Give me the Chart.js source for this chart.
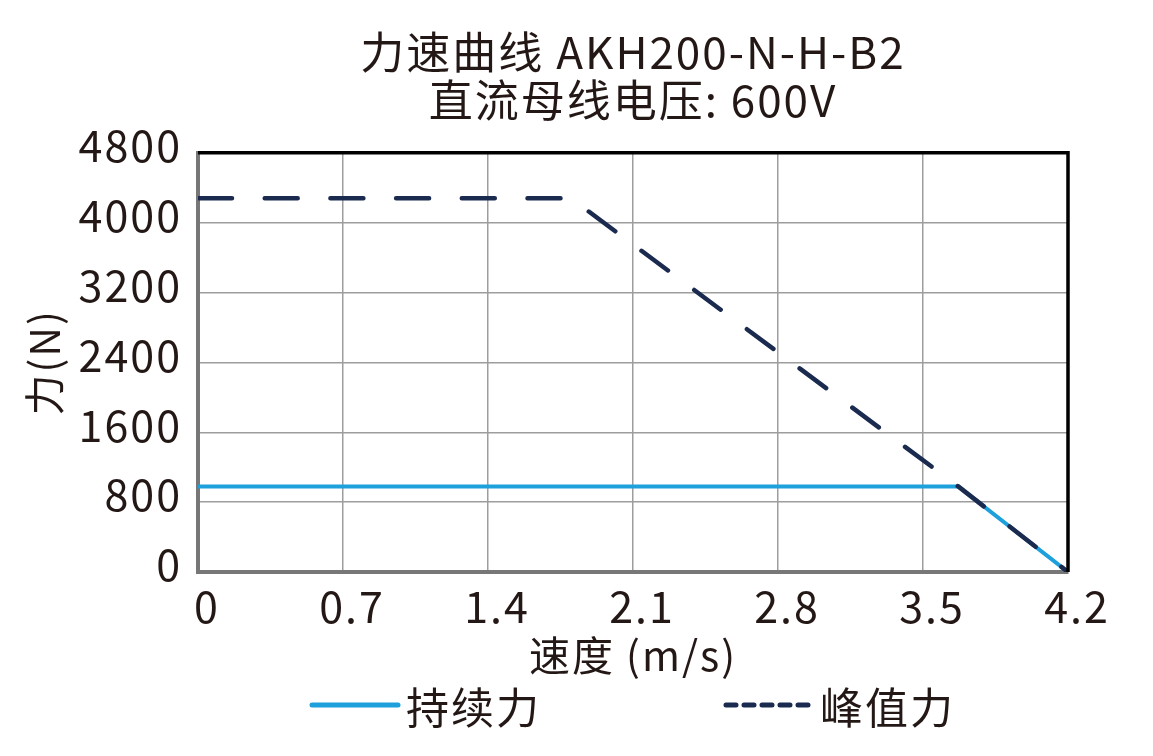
<!DOCTYPE html>
<html>
<head>
<meta charset="utf-8">
<script src="https://cdn.jsdelivr.net/npm/chart.js@4"></script>
<style>
  html, body { margin: 0; padding: 0; background: #fff; }
  #wrap { position: relative; width: 1153px; height: 756px; }
  #legend { position: absolute; left: 0; top: 0; width: 1153px; height: 756px; pointer-events: none;
            font-family: "Noto Sans CJK SC", "Noto Sans", sans-serif; color: #231815; }
  .lg-item { position: absolute; top: 677px; height: 56px; display: flex; align-items: center;
             font-size: 43px; letter-spacing: 2px; }
  .lg-item svg { margin-right: 5px; }
</style>
</head>
<body>
<div id="wrap">
  <canvas id="forceChart" width="1153" height="756"></canvas>
  <div id="legend"></div>
</div>
<script>
// ===== DATA =====
const titleLines   = ['力速曲线 AKH200-N-H-B2', '直流母线电压: 600V'];
const xTickLabels  = ['0', '0.7', '1.4', '2.1', '2.8', '3.5', '4.2'];
const yTickLabels  = ['0', '800', '1600', '2400', '3200', '4000', '4800'];

const contSpeed = [0, 3.67, 4.2];
const contForce = [980, 980, 0];
const peakSpeed = [0, 1.8, 3.67, 4.2];
const peakForce = [4280, 4280, 980, 0];

const seriesNames  = ['持续力', '峰值力'];
const seriesColors = ['#1ea0dc', '#1b2b50'];

const TEXT = '#231815';
const FONT = '"Noto Sans CJK SC", "Noto Sans", sans-serif';

// ======== TEXT SPACING ========
// the reference type is set a bit wider than the installed fonts
const textSpacing = {
  id: 'textSpacing',
  beforeUpdate(chart) { chart.ctx.letterSpacing = '2px'; },
  beforeDraw(chart)   { chart.ctx.letterSpacing = '2px'; },
};

// ======== FRAME (top / right black edges) ========
const frameEdges = {
  id: 'frameEdges',
  afterDatasetsDraw(chart) {
    const { ctx, chartArea: a } = chart;
    ctx.save();
    ctx.strokeStyle = '#000';
    ctx.lineWidth = 3.5;
    ctx.beginPath();
    ctx.moveTo(a.left, a.top);
    ctx.lineTo(a.right, a.top);
    ctx.lineTo(a.right, a.bottom);
    ctx.stroke();
    ctx.restore();
  },
};

// ======== CHART ========
function buildChart() {
  const pts = (xs, ys) => xs.map((x, i) => ({ x, y: ys[i] }));
  new Chart(document.getElementById('forceChart'), {
    type: 'line',
    data: {
      datasets: [
        {
          label: seriesNames[0],
          data: pts(contSpeed, contForce),
          borderColor: seriesColors[0],
          borderWidth: 4,
          pointRadius: 0,
          fill: false,
          order: 2,
        },
        {
          // peak line sits on top of the continuous one
          label: seriesNames[1],
          data: pts(peakSpeed, peakForce),
          borderColor: seriesColors[1],
          borderWidth: 4.5,
          borderDash: [33, 32.7],
          borderDashOffset: -1,
          borderCapStyle: 'round',
          pointRadius: 0,
          fill: false,
          order: 1,
        },
      ],
    },
    options: {
      responsive: false,
      animation: false,
      layout: { padding: { left: 0, right: 85, top: 0, bottom: 76 } },
      plugins: {
        legend: { display: false },
        tooltip: { enabled: false },
        title: {
          display: true,
          fullSize: false,
          text: titleLines,
          color: TEXT,
          font: { family: FONT, size: 44, weight: 'normal', lineHeight: 1.1 },
          padding: { top: 28, bottom: 28 },
        },
      },
      scales: {
        x: {
          type: 'linear',
          min: 0, max: 4.2,
          afterBuildTicks: s => { s.ticks = xTickLabels.map(v => ({ value: parseFloat(v) })); },
          afterFit: s => { s.height = 108; },
          ticks: {
            autoSkip: false,
            maxRotation: 0,
            padding: 9,
            labelOffset: 9,
            color: TEXT,
            font: { family: FONT, size: 43 },
            callback: (v, i) => xTickLabels[i],
          },
          grid: { color: '#9d9d9d', lineWidth: 1.5, drawTicks: false },
          border: { color: '#777', width: 4 },
          title: {
            display: true,
            text: '速度 (m/s)',
            color: TEXT,
            font: { family: FONT, size: 41 },
            padding: { top: 0, bottom: 0 },
          },
        },
        y: {
          min: 0, max: 4800,
          afterBuildTicks: s => { s.ticks = yTickLabels.map(v => ({ value: parseFloat(v) })); },
          afterFit: s => { s.width = 198; },
          ticks: {
            padding: 16,
            labelOffset: -7,
            color: TEXT,
            font: { family: FONT, size: 43 },
            callback: (v, i) => yTickLabels[i],
          },
          grid: { color: '#9d9d9d', lineWidth: 1.5, drawTicks: false },
          border: { color: '#777', width: 4 },
          title: {
            display: true,
            text: '力(N)',
            color: TEXT,
            font: { family: FONT, size: 41 },
            padding: { top: 20, bottom: 0 },
          },
        },
      },
    },
    plugins: [textSpacing, frameEdges],
  });
}

// ======== LEGEND ========
function buildLegend() {
  const box = document.getElementById('legend');
  const items = [
    { left: 309, name: seriesNames[0], color: seriesColors[0], dash: '' },
    { left: 723, name: seriesNames[1], color: seriesColors[1], dash: '10 8' },
  ];
  items.forEach(it => {
    const d = document.createElement('div');
    d.className = 'lg-item';
    d.style.left = it.left + 'px';
    d.innerHTML =
      `<svg width="92" height="12"><line x1="3" y1="6" x2="89" y2="6" stroke="${it.color}" ` +
      `stroke-width="5" stroke-linecap="round" ${it.dash ? `stroke-dasharray="${it.dash}"` : ''}/></svg>` +
      `<span>${it.name}</span>`;
    box.appendChild(d);
  });
}

window.addEventListener('load', () => { buildChart(); buildLegend(); });
</script>
</body>
</html>
